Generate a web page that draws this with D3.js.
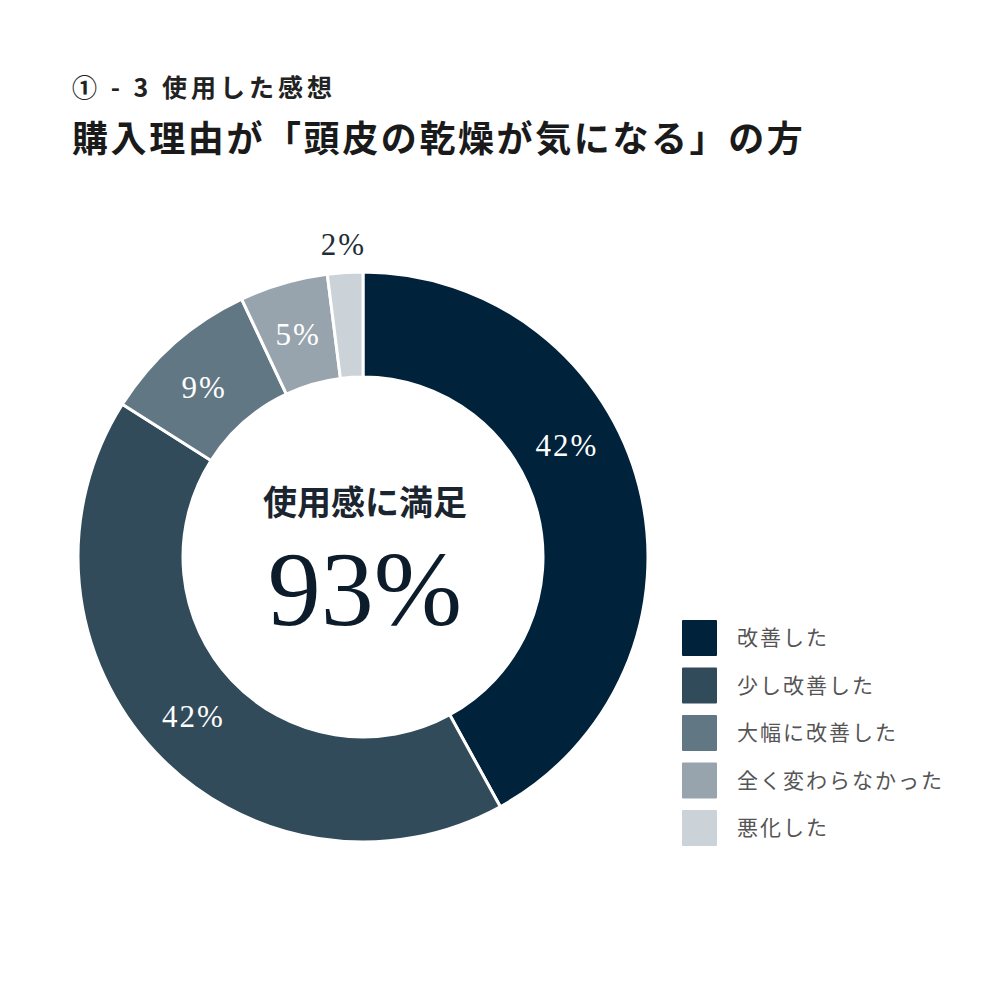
<!DOCTYPE html>
<html>
<head>
<meta charset="utf-8">
<script src="https://cdn.jsdelivr.net/npm/d3@7"></script>
<style>
  body { margin: 0; background: #fff; }
  svg { display: block; }
</style>
</head>
<body>
<div id="chart"></div>
<script>
// Chart data
const categories = ["改善した", "少し改善した", "大幅に改善した", "全く変わらなかった", "悪化した"];
const values = [42, 42, 9, 5, 2];
const colors = ["#00223a", "#324b5a", "#627784", "#97a4ad", "#cbd3d8"];
const labelTexts = ["42%", "42%", "9%", "5%", "2%"];
const titleSub = "① - 3 使用した感想";
const titleMain = "購入理由が「頭皮の乾燥が気になる」の方";
const centerCaption = "使用感に満足";
const centerValue = "93%";

const width = 1000, height = 1000;
const cx = 363, cy = 557;
const outerR = 285, innerR = 180;

const jpFont = "'Noto Sans CJK JP', sans-serif";
const numFont = "'Liberation Serif', 'DejaVu Serif', serif";

const svg = d3.select("#chart")
    .append("svg")
    .attr("width", width)
    .attr("height", height);

// Titles
svg.append("text")
    .attr("x", 72)
    .attr("y", 97)
    .style("font-family", jpFont)
    .style("font-size", "25px")
    .style("font-weight", "bold")
    .style("letter-spacing", "4px")
    .style("fill", "#222")
    .text(titleSub);

svg.append("text")
    .attr("x", 72)
    .attr("y", 152)
    .style("font-family", jpFont)
    .style("font-size", "36px")
    .style("font-weight", "bold")
    .style("letter-spacing", "2.6px")
    .style("fill", "#1a1a1a")
    .text(titleMain);

// Donut
const pie = d3.pie().sort(null).value(d => d);
const arcs = pie(values);

const arc = d3.arc().innerRadius(innerR).outerRadius(outerR);
const ringMid = d3.arc().innerRadius((innerR + outerR) / 2).outerRadius((innerR + outerR) / 2);
const outside = d3.arc().innerRadius(outerR + 28).outerRadius(outerR + 28);

const g = svg.append("g").attr("transform", `translate(${cx},${cy})`);

g.selectAll("path.slice")
    .data(arcs)
    .enter()
    .append("path")
    .attr("class", "slice")
    .attr("d", arc)
    .attr("fill", (d, i) => colors[i])
    .attr("stroke", "#fff")
    .attr("stroke-width", 3);

// Percentage labels (small slice goes outside, first label nudged up)
const labelShift = [-0.25, 0, -0.03, 0, 0];
g.selectAll("text.pct")
    .data(arcs)
    .enter()
    .append("text")
    .attr("class", "pct")
    .attr("transform", (d, i) => {
        const a = (d.startAngle + d.endAngle) / 2 + labelShift[i];
        const shifted = { startAngle: a, endAngle: a };
        const p = values[i] < 3 ? outside.centroid(shifted) : ringMid.centroid(shifted);
        return `translate(${p[0]},${p[1]})`;
    })
    .attr("text-anchor", "middle")
    .attr("dy", "0.35em")
    .style("font-family", numFont)
    .style("font-size", "31px")
    .style("letter-spacing", "2px")
    .style("fill", (d, i) => values[i] < 3 ? "#1f2d38" : "#fff")
    .text((d, i) => labelTexts[i]);

// Center text
g.append("text")
    .attr("x", 2)
    .attr("y", -42)
    .attr("text-anchor", "middle")
    .style("font-family", jpFont)
    .style("font-size", "34px")
    .style("font-weight", "bold")
    .style("fill", "#1a2530")
    .text(centerCaption);

g.append("text")
    .attr("x", 2)
    .attr("y", 68)
    .attr("text-anchor", "middle")
    .style("font-family", numFont)
    .style("font-size", "106px")
    .style("fill", "#0c1c2a")
    .text(centerValue);

// Legend
const legend = svg.append("g")
    .attr("class", "legend")
    .attr("transform", "translate(682, 620)");

categories.forEach((cat, i) => {
    const row = legend.append("g")
        .attr("transform", `translate(0, ${i * 47.5})`);
    row.append("rect")
        .attr("width", 35)
        .attr("height", 36)
        .attr("rx", 1)
        .attr("fill", colors[i]);
    row.append("text")
        .attr("x", 55)
        .attr("y", 18)
        .attr("dy", "0.35em")
        .style("font-family", jpFont)
        .style("font-size", "21px")
        .style("letter-spacing", "2px")
        .style("fill", "#555")
        .text(cat);
});
</script>
</body>
</html>
